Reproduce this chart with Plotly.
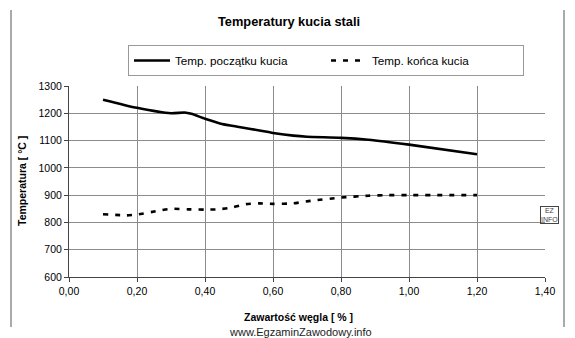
import plotly.graph_objects as go

# data
x_start = [0.10, 0.20, 0.30, 0.34, 0.36, 0.40, 0.45, 0.50, 0.56, 0.60, 0.66, 0.70, 0.80, 0.88, 1.00, 1.20]
t_start = [1250, 1220, 1200, 1203, 1198, 1180, 1161, 1150, 1137, 1128, 1118, 1114, 1110, 1103, 1085, 1050]
x_end = [0.10, 0.17, 0.20, 0.26, 0.30, 0.35, 0.40, 0.44, 0.48, 0.52, 0.56, 0.60, 0.66, 0.71, 0.80, 0.88, 0.94, 1.00, 1.20]
t_end = [830, 826, 829, 842, 850, 848, 847, 848, 855, 867, 870, 868, 870, 879, 891, 898, 900, 900, 900]
x_ticks = [0.0, 0.2, 0.4, 0.6, 0.8, 1.0, 1.2, 1.4]
x_labels = ["0,00", "0,20", "0,40", "0,60", "0,80", "1,00", "1,20", "1,40"]
y_ticks = [600, 700, 800, 900, 1000, 1100, 1200, 1300]
name_start = "Temp. początku kucia"
name_end = "Temp. końca kucia"

W, H = 575, 338
L, R, T, B = 69, 30, 86, 61
pw, ph = W - L - R, H - T - B

def px(xp):
    return (xp - L) / pw

def py(yp):
    return (H - B - yp) / ph

FONT = "Liberation Sans, Arial, sans-serif"

fig = go.Figure()
fig.add_trace(go.Scatter(x=x_start, y=t_start, mode="lines", name=name_start,
                         line=dict(color="black", width=2.6, shape="spline", smoothing=0.6)))
fig.add_trace(go.Scatter(x=x_end, y=t_end, mode="lines", name=name_end,
                         line=dict(color="black", width=2.6, dash="5px,7px", shape="spline", smoothing=0.6)))

fig.update_layout(
    width=W, height=H,
    margin=dict(l=L, r=R, t=T, b=B, pad=0),
    paper_bgcolor="white", plot_bgcolor="white",
    font=dict(family=FONT, size=10, color="black"),
    showlegend=True,
    legend=dict(orientation="h", x=px(128), y=py(45), xanchor="left", yanchor="top",
                bordercolor="#999999", borderwidth=1, bgcolor="white",
                font=dict(size=11.7, family=FONT), entrywidth=146, entrywidthmode="pixels",
                itemwidth=36),
    title=dict(text="<b>Temperatury kucia stali</b>", x=289 / W, xanchor="center",
               y=1 - 22 / H, yanchor="middle", font=dict(size=12.8, family=FONT)),
    xaxis=dict(range=[0, 1.4], tickvals=x_ticks, ticktext=x_labels,
               showgrid=True, gridcolor="#8c8c8c", gridwidth=1,
               showline=True, linecolor="#444444", linewidth=1,
               ticks="outside", ticklen=4, tickcolor="#444444",
               tickfont=dict(size=10.5), zeroline=False, fixedrange=True),
    yaxis=dict(range=[600, 1300], tickvals=y_ticks,
               showgrid=True, gridcolor="#8c8c8c", gridwidth=1,
               showline=True, linecolor="#444444", linewidth=1,
               ticks="outside", ticklen=4, tickcolor="#444444",
               tickfont=dict(size=10.5), zeroline=False, fixedrange=True),
    annotations=[
        dict(text="<b>Zawartość węgla [ % ]</b>", x=px(298), y=py(317), xref="paper", yref="paper",
             showarrow=False, xanchor="center", yanchor="middle", font=dict(size=10.5)),
        dict(text="<b>Temperatura [ °C ]</b>", x=px(22), y=py(181), xref="paper", yref="paper",
             showarrow=False, xanchor="center", yanchor="middle", textangle=-90, font=dict(size=10.5)),
        dict(text="www.EgzaminZawodowy.info", x=px(300), y=py(332), xref="paper", yref="paper",
             showarrow=False, xanchor="center", yanchor="middle", font=dict(size=11, color="#222222")),
        dict(text="EZ<br>INFO", x=px(549), y=py(215), xref="paper", yref="paper",
             showarrow=False, xanchor="center", yanchor="middle", font=dict(size=7, color="#444444"),
             bordercolor="#444444", borderwidth=1, borderpad=0),
    ],
    shapes=[
        dict(type="line", xref="paper", yref="paper", x0=px(11), x1=px(11), y0=py(10), y1=py(327),
             line=dict(color="#555555", width=1)),
        dict(type="line", xref="paper", yref="paper", x0=px(564), x1=px(564), y0=py(10), y1=py(327),
             line=dict(color="#555555", width=1)),
    ],
)

fig.write_html("out.html")
